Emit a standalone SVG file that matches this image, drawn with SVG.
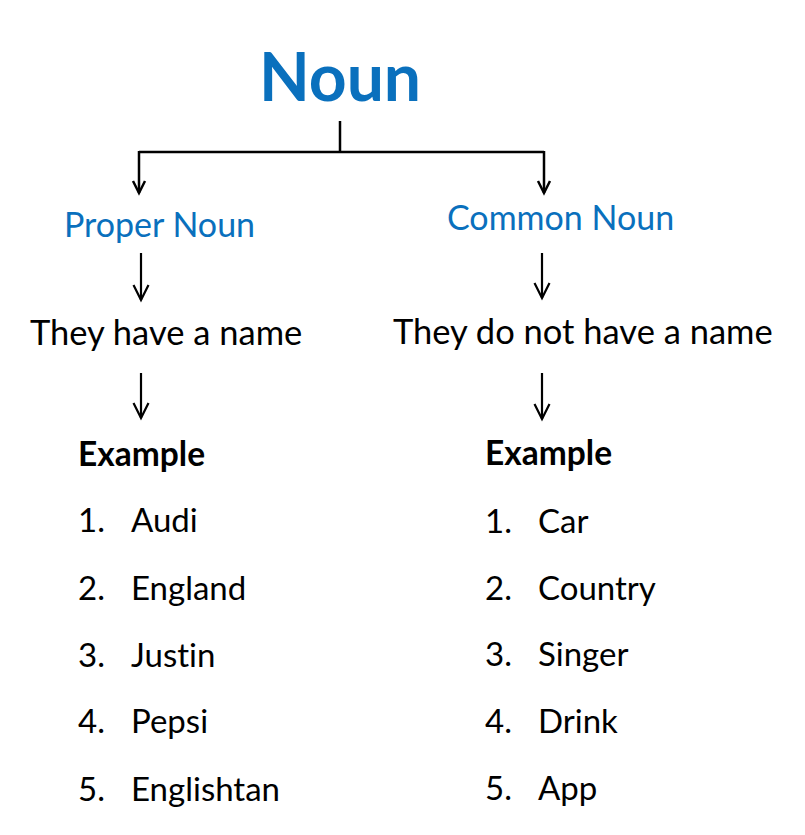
<svg xmlns="http://www.w3.org/2000/svg" width="805" height="835" viewBox="0 0 805 835">
<style>
text{font-family:Lato,"Open Sans","Liberation Sans",sans-serif;fill:#000;font-variant-ligatures:none;font-feature-settings:"liga" 0,"dlig" 0}
.blue{fill:#0A70BD}
.h{font-size:34px}
.t{font-size:34.5px}
.b{font-weight:bold;font-size:33.5px}
.l{font-size:33px}
.c{fill:none;stroke:#000;stroke-width:2.5}
.g{fill:none;stroke:#000;stroke-width:2.2}
</style>
<defs>
<marker id="ah" markerWidth="14" markerHeight="14" refX="12" refY="6" orient="auto" markerUnits="userSpaceOnUse" overflow="visible">
<path d="M0,0 L12,6 L0,12" fill="none" stroke="#000" stroke-width="2.5"/>
</marker>
<marker id="ag" markerWidth="16" markerHeight="16" refX="15" refY="7.5" orient="auto" markerUnits="userSpaceOnUse" overflow="visible">
<path d="M0,0 L15,7.5 L0,15" fill="none" stroke="#000" stroke-width="2.2"/>
</marker>
</defs>
<rect width="805" height="835" fill="#fff"/>
<g id="connectors">
<path class="c" d="M340,121 V152"/>
<path class="c" d="M139,152 H544"/>
<path class="c" d="M139,151 V193" marker-end="url(#ah)"/>
<path class="c" d="M544,151 V193" marker-end="url(#ah)"/>
<path class="g" d="M141,253 V300" marker-end="url(#ag)"/>
<path class="g" d="M141,373 V418" marker-end="url(#ag)"/>
<path class="g" d="M542,253 V298" marker-end="url(#ag)"/>
<path class="g" d="M542,373 V419" marker-end="url(#ag)"/>
</g>
<g id="noun"><text class="blue" x="340" y="101" text-anchor="middle" font-size="66" font-weight="bold">Noun</text></g>
<g id="proper"><text class="blue h" x="64" y="237">Proper Noun</text></g>
<g id="common"><text class="blue h" x="447" y="230">Common Noun</text></g>
<g id="proper-desc"><text class="t" x="30" y="345">They have a name</text></g>
<g id="common-desc"><text class="t" x="393" y="344">They do not have a name</text></g>
<g id="proper-examples">
<text class="b" x="78" y="466">Example</text>
<text class="l" x="78" y="532">1.</text><text class="l" x="131" y="532">Audi</text>
<text class="l" x="78" y="600">2.</text><text class="l" x="131" y="600">England</text>
<text class="l" x="78" y="667">3.</text><text class="l" x="131" y="667">Justin</text>
<text class="l" x="78" y="733">4.</text><text class="l" x="131" y="733">Pepsi</text>
<text class="l" x="78" y="801">5.</text><text class="l" x="131" y="801">Englishtan</text>
</g>
<g id="common-examples">
<text class="b" x="485" y="465">Example</text>
<text class="l" x="485" y="533">1.</text><text class="l" x="538" y="533">Car</text>
<text class="l" x="485" y="600">2.</text><text class="l" x="538" y="600">Country</text>
<text class="l" x="485" y="666">3.</text><text class="l" x="538" y="666">Singer</text>
<text class="l" x="485" y="733">4.</text><text class="l" x="538" y="733">Drink</text>
<text class="l" x="485" y="800">5.</text><text class="l" x="538" y="800">App</text>
</g>
</svg>
